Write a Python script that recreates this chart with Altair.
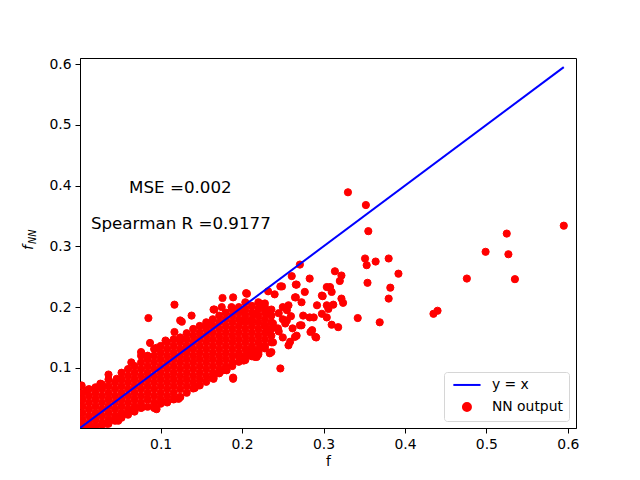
import altair as alt
import pandas as pd

# ---- dense cloud ----
core_columns = [
    (0.004, [0.004, 0.015, 0.026, 0.037, 0.048, 0.059]),
    (0.012, [0.004, 0.010, 0.021, 0.032, 0.043, 0.054, 0.065]),
    (0.020, [0.004, 0.015, 0.026, 0.037, 0.048, 0.059, 0.068]),
    (0.028, [0.006, 0.010, 0.021, 0.032, 0.043, 0.054, 0.065, 0.073]),
    (0.036, [0.008, 0.015, 0.026, 0.037, 0.048, 0.059, 0.070, 0.081]),
    (0.044, [0.013, 0.021, 0.032, 0.043, 0.054, 0.065, 0.076]),
    (0.052, [0.018, 0.026, 0.037, 0.048, 0.059, 0.070, 0.081, 0.092]),
    (0.060, [0.023, 0.032, 0.043, 0.054, 0.065, 0.076, 0.087, 0.098]),
    (0.068, [0.028, 0.037, 0.048, 0.059, 0.070, 0.081, 0.092, 0.103]),
    (0.076, [0.034, 0.043, 0.054, 0.065, 0.076, 0.087, 0.098, 0.109, 0.120]),
    (0.084, [0.036, 0.048, 0.059, 0.070, 0.081, 0.092, 0.103, 0.114, 0.120]),
    (0.092, [0.034, 0.043, 0.054, 0.065, 0.076, 0.087, 0.098, 0.109, 0.120, 0.131]),
    (0.100, [0.041, 0.048, 0.059, 0.070, 0.081, 0.092, 0.103, 0.114, 0.125, 0.136]),
    (0.108, [0.044, 0.054, 0.065, 0.076, 0.087, 0.098, 0.109, 0.120, 0.131, 0.142]),
    (0.116, [0.048, 0.059, 0.070, 0.081, 0.092, 0.103, 0.114, 0.125, 0.136, 0.147]),
    (0.124, [0.052, 0.065, 0.076, 0.087, 0.098, 0.109, 0.120, 0.131, 0.142, 0.150]),
    (0.132, [0.059, 0.070, 0.081, 0.092, 0.103, 0.114, 0.125, 0.136, 0.147, 0.157]),
    (0.140, [0.066, 0.076, 0.087, 0.098, 0.109, 0.120, 0.131, 0.142, 0.153, 0.164]),
    (0.148, [0.071, 0.081, 0.092, 0.103, 0.114, 0.125, 0.136, 0.147, 0.158, 0.169]),
    (0.156, [0.077, 0.087, 0.098, 0.109, 0.120, 0.131, 0.142, 0.153, 0.164, 0.175]),
    (0.164, [0.083, 0.092, 0.103, 0.114, 0.125, 0.136, 0.147, 0.158, 0.169, 0.180]),
    (0.172, [0.091, 0.098, 0.109, 0.120, 0.131, 0.142, 0.153, 0.164, 0.175, 0.186]),
    (0.180, [0.097, 0.103, 0.114, 0.125, 0.136, 0.147, 0.158, 0.169, 0.180, 0.191]),
    (0.188, [0.103, 0.109, 0.120, 0.131, 0.142, 0.153, 0.164, 0.175, 0.186, 0.197]),
    (0.196, [0.110, 0.118, 0.125, 0.136, 0.147, 0.158, 0.169, 0.180, 0.191, 0.200]),
    (0.204, [0.113, 0.120, 0.131, 0.142, 0.153, 0.164, 0.175, 0.186, 0.197, 0.208]),
    (0.212, [0.119, 0.125, 0.136, 0.147, 0.158, 0.169, 0.180, 0.191, 0.202]),
    (0.220, [0.122, 0.131, 0.142, 0.153, 0.164, 0.175, 0.186, 0.197, 0.208]),
    (0.228, [0.132, 0.136, 0.147, 0.158, 0.169, 0.180, 0.191, 0.200]),
    (0.236, [0.142, 0.153, 0.164, 0.175, 0.186, 0.196]),
]

# ---- scattered points around the cloud ----
outlier_f = [
    0.085, 0.117, 0.126, 0.138, 0.176, 0.189, 0.205, 0.187, 0.166, 0.157,
    0.117, 0.106, 0.087, 0.095, 0.076, 0.064, 0.036, 0.026, 0.009, 0.003,
    0.046, 0.132, 0.124, 0.189, 0.212, 0.216, 0.142, 0.124, 0.108, 0.095,
    0.077, 0.065, 0.048, 0.034, 0.013, 0.165, 0.181, 0.202, 0.122, 0.050,
    0.222, 0.212, 0.202, 0.238, 0.255, 0.238, 0.232, 0.247, 0.240, 0.261,
    0.267, 0.283, 0.304, 0.277, 0.265, 0.298, 0.292, 0.304, 0.304, 0.288,
    0.275, 0.271, 0.286, 0.290, 0.267, 0.257, 0.247, 0.236, 0.218, 0.189,
    0.177, 0.165, 0.175, 0.165, 0.157, 0.124,
    0.330, 0.352, 0.355, 0.351, 0.353, 0.364, 0.380, 0.392, 0.354, 0.382,
    0.380, 0.342, 0.369, 0.271, 0.314, 0.322, 0.320, 0.308, 0.310, 0.266,
    0.249, 0.299, 0.322, 0.324, 0.266, 0.273, 0.257, 0.312, 0.306, 0.298,
    0.283, 0.273, 0.310, 0.318, 0.284, 0.291, 0.265, 0.259, 0.206, 0.228,
    0.253, 0.230, 0.234, 0.218, 0.206, 0.202, 0.214,
    0.245, 0.250, 0.245, 0.250, 0.255, 0.260, 0.262, 0.250, 0.244, 0.228,
    0.230, 0.226, 0.220,
    0.595, 0.525, 0.499, 0.527, 0.535, 0.476, 0.435, 0.440,
]
outlier_fnn = [
    0.182, 0.204, 0.176, 0.186, 0.215, 0.216, 0.223, 0.200, 0.196, 0.171,
    0.159, 0.145, 0.141, 0.133, 0.126, 0.109, 0.089, 0.074, 0.063, 0.071,
    0.082, 0.134, 0.148, 0.084, 0.129, 0.118, 0.067, 0.052, 0.043, 0.032,
    0.035, 0.030, 0.013, 0.008, 0.005, 0.082, 0.096, 0.112, 0.049, 0.021,
    0.206, 0.178, 0.192, 0.173, 0.178, 0.142, 0.226, 0.234, 0.221, 0.251,
    0.237, 0.247, 0.233, 0.225, 0.216, 0.219, 0.203, 0.203, 0.183, 0.183,
    0.186, 0.170, 0.162, 0.151, 0.153, 0.137, 0.099, 0.126, 0.118, 0.082,
    0.096, 0.085, 0.200, 0.196, 0.173, 0.178,
    0.389, 0.368, 0.325, 0.280, 0.269, 0.275, 0.280, 0.255, 0.240, 0.232,
    0.214, 0.182, 0.175, 0.270, 0.259, 0.252, 0.243, 0.233, 0.225, 0.237,
    0.234, 0.218, 0.214, 0.207, 0.216, 0.208, 0.203, 0.204, 0.197, 0.189,
    0.183, 0.170, 0.171, 0.167, 0.159, 0.150, 0.151, 0.143, 0.222, 0.206,
    0.173, 0.159, 0.124, 0.120, 0.129, 0.178, 0.189,
    0.160, 0.150, 0.190, 0.200, 0.195, 0.185, 0.165, 0.180, 0.165, 0.170,
    0.190, 0.135, 0.125,
    0.334, 0.321, 0.291, 0.287, 0.246, 0.247, 0.189, 0.194,
]

line_f = [0.0, 0.595]
series_names = ["y = x", "NN output"]
series_colors = ["#0000ff", "#ff0000"]
series_shapes = ["M-3.4,0L3.4,0", "circle"]

annot_f = [0.0613, 0.0144]
annot_fnn = [0.3885, 0.329]
annot_text = ["MSE =0.002", "Spearman R =0.9177"]

tick_vals = [0.1, 0.2, 0.3, 0.4, 0.5, 0.6]

# ---- tables ----
pts_f, pts_fnn = [], []
for xv, ys in core_columns:
    for yv in ys:
        pts_f.append(xv)
        pts_fnn.append(yv)
pts_f += outlier_f
pts_fnn += outlier_fnn
df_pts = pd.DataFrame({"f": pts_f, "fnn": pts_fnn, "series": "NN output"})
df_line = pd.DataFrame({"f": line_f, "fnn": line_f, "series": "y = x"})
df_text = pd.DataFrame({"f": annot_f, "fnn": annot_fnn, "label": annot_text})

FONT = "DejaVu Sans"
xscale = alt.Scale(domain=[0.001, 0.61], nice=False, zero=False)
yscale = alt.Scale(domain=[0.001, 0.61], nice=False, zero=False)
xaxis = alt.Axis(values=tick_vals, format=".1f", title="f", grid=False,
                 titleFontWeight="normal", titlePadding=4)
yaxis = alt.Axis(values=tick_vals, format=".1f", title=None, grid=False)

X = alt.X("f:Q", scale=xscale, axis=xaxis)
Y = alt.Y("fnn:Q", scale=yscale, axis=yaxis)

leg = alt.Legend(title=None, orient="bottom-right", offset=7,
                 fillColor="white", strokeColor="#d6d6d6", cornerRadius=3,
                 padding=6, labelFont=FONT, labelFontSize=13.9, labelColor="black",
                 symbolSize=64, symbolStrokeWidth=2, symbolOffset=10,
                 labelOffset=18, rowPadding=6, symbolOpacity=1)

color_enc = alt.Color("series:N", scale=alt.Scale(domain=series_names, range=series_colors), legend=leg)
stroke_enc = alt.Stroke("series:N", scale=alt.Scale(domain=series_names, range=series_colors), legend=leg)
shape_enc = alt.Shape("series:N", scale=alt.Scale(domain=series_names, range=series_shapes), legend=leg)

points = alt.Chart(df_pts).mark_point(filled=True, size=52, opacity=1, strokeWidth=1, clip=True).encode(
    x=X, y=Y, color=color_enc, stroke=stroke_enc, shape=shape_enc
)
line = alt.Chart(df_line).mark_line(strokeWidth=2, clip=True).encode(
    x=X, y=Y, color=color_enc
)
texts = alt.Chart(df_text).mark_text(align="left", baseline="alphabetic", font=FONT,
                                    fontSize=16.7, color="black").encode(
    x=X, y=Y, text="label:N"
)
ylab_f = alt.Chart(pd.DataFrame({"t": ["f"]})).mark_text(
    angle=270, align="left", baseline="alphabetic", font=FONT, fontSize=13.9,
    fontStyle="italic", color="black").encode(
    x=alt.value(-47), y=alt.value(192), text="t:N")
ylab_nn = alt.Chart(pd.DataFrame({"t": ["NN"]})).mark_text(
    angle=270, align="left", baseline="alphabetic", font=FONT, fontSize=9.7,
    fontStyle="italic", color="black").encode(
    x=alt.value(-44), y=alt.value(186), text="t:N")

chart = alt.layer(points, line, texts, ylab_f, ylab_nn).properties(
    width=496, height=370,
    autosize=alt.AutoSizeParams(type="none"),
    padding={"left": 72, "top": 50, "right": 56, "bottom": 42},
    background="white",
).configure_view(stroke="black", strokeWidth=1).configure_axis(
    domainColor="black", tickColor="black", labelColor="black", titleColor="black",
    labelFont=FONT, titleFont=FONT, labelFontSize=13.9, titleFontSize=13.9,
    tickSize=5, labelPadding=4, domainWidth=1, tickWidth=1,
)

chart.save("out.html", embed_options={"renderer": "svg", "actions": False})
